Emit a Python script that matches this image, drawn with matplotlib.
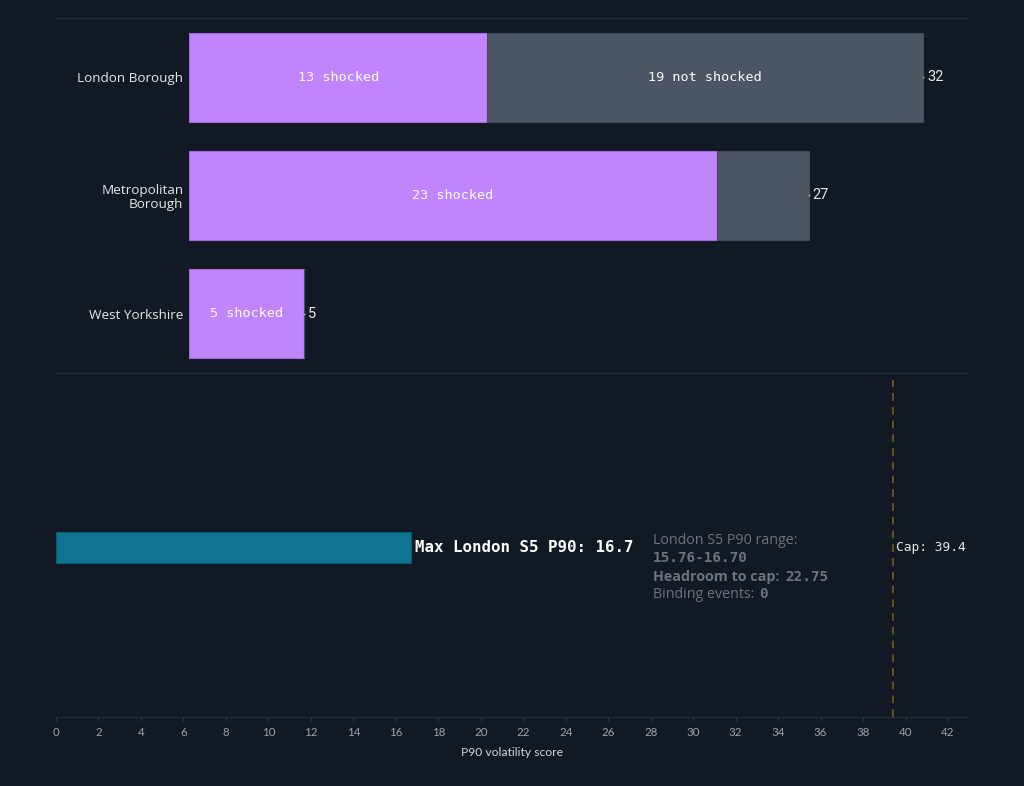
import matplotlib
matplotlib.use("Agg")
import matplotlib.pyplot as plt
from matplotlib.lines import Line2D

# ---- data ----
categories = ["London Borough", "Metropolitan\nBorough", "West Yorkshire"]
shocked = [13, 23, 5]
not_shocked = [19, 4, 0]
totals = [32, 27, 5]

p90_label = "Max London S5 P90"
p90_max = 16.7
p90_range = "15.76-16.70"
cap = 39.4
headroom = 22.75
binding_events = 0
x_ticks = list(range(0, 43, 2))

# ---- style ----
BG = "#111a24"
PURPLE = "#c084fc"
GRAY = "#4b5563"
TEAL = "#0e7490"
GRID = "#1d2a35"
TXT = "#e5e7eb"
MUTED = "#6b7280"
SANS = ["Open Sans", "DejaVu Sans"]
MONO = ["DejaVu Sans Mono"]

fig = plt.figure(figsize=(10.24, 7.86), dpi=100, facecolor=BG)
W, H = 1024, 786

def ax_rect(x0, y0, x1, y1):
    return [x0 / W, 1 - y1 / H, (x1 - x0) / W, (y1 - y0) / H]

# ---- top panel ----
ax1 = fig.add_axes(ax_rect(189, 18, 968, 373), facecolor=BG)
ypos = list(range(len(categories)))
ax1.barh(ypos, shocked, height=0.75, color=PURPLE, edgecolor="#a76ae0", linewidth=0.8)
ax1.barh(ypos, not_shocked, left=shocked, height=0.75, color=GRAY, edgecolor="#434c59", linewidth=0.8)
ax1.set_xlim(0, 33.95)
ax1.set_ylim(2.5, -0.5)
ax1.set_yticks(ypos)
ax1.set_yticklabels(categories, fontsize=9.7, color=TXT, family=SANS, linespacing=1.1)
ax1.tick_params(axis="y", length=0, pad=4)
ax1.set_xticks([])
for s in ax1.spines.values():
    s.set_visible(False)
for i in ypos:
    ax1.text(shocked[i] / 2, i, f"{shocked[i]} shocked", ha="center", va="center",
             color="white", fontsize=9.7, family=MONO)
    if not_shocked[i] >= 8:
        ax1.text(shocked[i] + not_shocked[i] / 2, i, f"{not_shocked[i]} not shocked",
                 ha="center", va="center", color="white", fontsize=9.7, family=MONO)
    ax1.plot([totals[i]], [i], marker="o", markersize=1.6, color="#8b95a3", mew=0)
    ax1.annotate(str(totals[i]), xy=(totals[i], i), xytext=(3, 0), textcoords="offset points",
                 ha="left", va="center", color=TXT, fontsize=10.5, family=["Roboto", "DejaVu Sans"])

# separators
for y in (18, 373):
    fig.add_artist(Line2D([56 / W, 968 / W], [1 - y / H, 1 - y / H], color=GRID, lw=1))

# ---- bottom panel ----
ax2 = fig.add_axes(ax_rect(56, 378, 968, 717), facecolor=BG)
ax2.barh([0], [p90_max], height=0.094, color=TEAL, edgecolor="#0b5a70", linewidth=0.8)
ax2.set_xlim(0, 42.94)
ax2.set_ylim(-0.5, 0.5)
ax2.set_yticks([])
ax2.set_xticks(x_ticks)
ax2.set_xticklabels([str(t) for t in x_ticks], fontsize=8.3, color="#9ca3af", family=["Lato", "DejaVu Sans"])
ax2.tick_params(axis="x", length=3, color="#2a3744", pad=4)
for k, s in ax2.spines.items():
    s.set_visible(k == "bottom")
ax2.spines["bottom"].set_color("#223140")
ax2.set_xlabel("P90 volatility score", fontsize=8.7, color="#d1d5db", family=["Lato", "DejaVu Sans"], labelpad=7)

ax2.axvline(cap, color="#8a5a1c", lw=1.1, ls=(0, (5, 4)), ymin=0, ymax=0.995)
ax2.annotate(f"Cap: {cap}", xy=(cap, 0), xytext=(2, 0), textcoords="offset points",
             ha="left", va="center", color=TXT, fontsize=9.3, family=MONO)
ax2.annotate(f"{p90_label}: {p90_max}", xy=(p90_max, 0), xytext=(3, 0), textcoords="offset points",
             ha="left", va="center", color="white", fontsize=11.3, fontweight="bold", family=MONO)

# info block
x_info = 28.1
FS = 10.3
ax2.annotate("London S5 P90 range:", xy=(x_info, 0), xytext=(0, 5), textcoords="offset points",
             ha="left", va="center", color=MUTED, fontsize=FS, family=SANS)
ax2.annotate(p90_range, xy=(x_info, 0), xytext=(0, -7.5), textcoords="offset points",
             ha="left", va="center", color=MUTED, fontsize=FS, fontweight="bold", family=MONO)
h = ax2.annotate("Headroom to cap:", xy=(x_info, 0), xytext=(0, -21), textcoords="offset points",
                 ha="left", va="center", color=MUTED, fontsize=FS, fontweight="bold", family=SANS)
ax2.annotate(f"{headroom:.2f}", xy=(1, 0.5), xycoords=h, xytext=(4, 0), textcoords="offset points",
             ha="left", va="center", color=MUTED, fontsize=FS, fontweight="bold", family=MONO)
b = ax2.annotate("Binding events:", xy=(x_info, 0), xytext=(0, -33.5), textcoords="offset points",
                 ha="left", va="center", color=MUTED, fontsize=FS, family=SANS)
ax2.annotate(str(binding_events), xy=(1, 0.5), xycoords=b, xytext=(4, 0), textcoords="offset points",
             ha="left", va="center", color=MUTED, fontsize=FS, fontweight="bold", family=MONO)

fig.savefig("out.png", dpi=100, facecolor=BG)
